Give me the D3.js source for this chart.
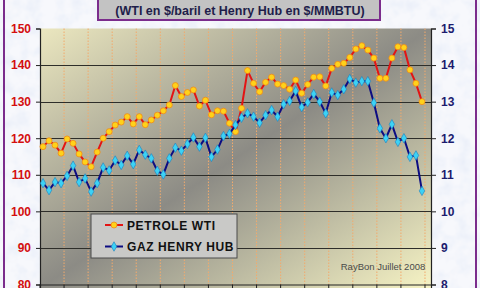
<!DOCTYPE html>
<html>
<head>
<meta charset="utf-8">
<script src="https://cdn.jsdelivr.net/npm/d3@7"></script>
<style>
  body { margin: 0; background: #fff; }
  svg { display: block; font-family: "Liberation Sans", Arial, sans-serif; }
</style>
</head>
<body>
<svg id="chart" width="480" height="288"></svg>
<script>
// weekly slots on the category axis (the last one is empty)
const slots = d3.range(65);

// PETROLE WTI, $/baril (left axis)
const wti = [117.7, 119.3, 118.1, 115.9, 119.8, 118.6, 115.7, 113.5, 112.2, 116.2,
    120.0, 121.8, 123.6, 124.4, 125.9, 123.9, 125.9, 123.7, 125.0, 126.3,
    127.5, 129.1, 134.4, 131.4, 132.5, 133.2, 128.8, 130.4, 126.4, 127.5,
    127.4, 124.1, 121.8, 128.2, 138.5, 135.0, 132.7, 135.3, 136.7, 134.8,
    134.4, 133.4, 135.9, 132.3, 134.7, 136.7, 136.8, 134.3, 139.1, 140.2,
    140.5, 142.1, 144.4, 145.3, 144.1, 141.9, 136.4, 136.4, 141.9, 145.0,
    144.8, 138.7, 135.0, 130.0];

// GAZ HENRY HUB, $/MMBTU (right axis)
const henryHub = [10.77, 10.58, 10.80, 10.77, 10.97, 11.25, 10.80, 10.90, 10.54, 10.77,
    11.20, 11.12, 11.39, 11.27, 11.52, 11.29, 11.68, 11.55, 11.45, 11.11,
    11.01, 11.45, 11.74, 11.66, 11.84, 12.02, 11.77, 12.01, 11.49, 11.69,
    12.06, 12.12, 12.36, 12.56, 12.68, 12.59, 12.42, 12.63, 12.77, 12.59,
    12.93, 13.02, 13.29, 12.85, 12.98, 13.21, 13.00, 12.68, 13.25, 13.18,
    13.34, 13.62, 13.52, 13.56, 13.56, 12.97, 12.27, 12.00, 12.38, 11.90,
    12.00, 11.49, 11.53, 10.56];

const leftTicks = [80, 90, 100, 110, 120, 130, 140, 150];
const rightTicks = [8, 9, 10, 11, 12, 13, 14, 15];

const svg = d3.select('#chart');
const defs = svg.append('defs');

// light snowy background texture
const snow = defs.append('filter').attr('id', 'snow')
    .attr('x', 0).attr('y', 0).attr('width', '100%').attr('height', '100%');
snow.append('feTurbulence').attr('type', 'fractalNoise')
    .attr('baseFrequency', 0.07).attr('numOctaves', 3).attr('seed', 4).attr('result', 'n');
snow.append('feColorMatrix').attr('in', 'n').attr('type', 'matrix')
    .attr('values', '0 0 0 0 0.78  0 0 0 0 0.83  0 0 0 0 0.93  -1.4 0 0 0 0.85');
snow.append('feComposite').attr('in2', 'SourceGraphic').attr('operator', 'over');

const grad = defs.append('linearGradient').attr('id', 'plotbg')
    .attr('x1', 0).attr('y1', 0).attr('x2', 1).attr('y2', 1);
grad.append('stop').attr('offset', '0%').attr('stop-color', '#ebe7bf');
grad.append('stop').attr('offset', '50%').attr('stop-color', '#8c8b85');
grad.append('stop').attr('offset', '100%').attr('stop-color', '#f6f3c4');

svg.append('rect').attr('width', 480).attr('height', 288)
    .attr('fill', '#f7f8fc').attr('filter', 'url(#snow)');

// purple frame sides
svg.append('line').attr('x1', 4).attr('x2', 4).attr('y1', 0).attr('y2', 288)
    .style('stroke', '#7b2c8c').style('stroke-width', 2);
svg.append('line').attr('x1', 476).attr('x2', 476).attr('y1', 0).attr('y2', 288)
    .style('stroke', '#7b2c8c').style('stroke-width', 2);

const LEFT = 40, RIGHT = 431, TOP = 28.5, BOTTOM = 284.5;

const x = d3.scaleBand().domain(slots).range([LEFT, RIGHT]);
const yL = d3.scaleLinear().domain([80, 150]).range([BOTTOM, TOP]);
const yR = d3.scaleLinear().domain([8, 15]).range([BOTTOM, TOP]);

svg.append('rect')
    .attr('x', LEFT).attr('y', TOP)
    .attr('width', RIGHT - LEFT).attr('height', 288 - TOP)
    .attr('fill', 'url(#plotbg)');

// vertical dotted grid every 4 slots
const vlines = slots.filter(d => d > 0 && d % 4 === 0);
svg.append('g').selectAll('line').data(vlines).join('line')
    .attr('x1', d => x(d)).attr('x2', d => x(d))
    .attr('y1', TOP).attr('y2', BOTTOM)
    .style('stroke', '#f3aa6c').style('stroke-width', 1)
    .style('stroke-dasharray', '1.5,1.5');

// horizontal grid
svg.append('g').selectAll('line').data(leftTicks.slice(1, -1)).join('line')
    .attr('x1', LEFT).attr('x2', RIGHT)
    .attr('y1', d => Math.round(yL(d)) + 0.5).attr('y2', d => Math.round(yL(d)) + 0.5)
    .style('stroke', '#2e2e2a').style('stroke-width', 1);

// axes
const axL = svg.append('g').attr('transform', `translate(${LEFT},0)`)
    .call(d3.axisLeft(yL).tickValues(leftTicks).tickSize(4).tickPadding(5));
const axR = svg.append('g').attr('transform', `translate(${RIGHT},0)`)
    .call(d3.axisRight(yR).tickValues(rightTicks).tickFormat(d3.format('d'))
        .tickSize(5).tickPadding(5));
const axB = svg.append('g').attr('transform', `translate(0,${BOTTOM})`)
    .call(d3.axisBottom(x).tickValues(slots.filter(d => d % 4 === 0)).tickSize(5).tickFormat(''));
axB.selectAll('.tick line').attr('transform', `translate(${-x.bandwidth() / 2},0)`);

[axL, axR, axB].forEach(a => {
    a.select('.domain').style('stroke', '#222').style('stroke-width', 1.2);
    a.selectAll('.tick line').style('stroke', '#222');
});
axL.selectAll('text').style('fill', '#d40f0f').style('font-size', '12px')
    .style('font-weight', 'bold').style('font-family', '"Liberation Sans", Arial, sans-serif');
axR.selectAll('text').style('fill', '#1c1c6e').style('font-size', '12px')
    .style('font-weight', 'bold').style('font-family', '"Liberation Sans", Arial, sans-serif');

// series
const cx = (d, i) => x(slots[i]) + x.bandwidth() / 2;

svg.append('path').datum(wti)
    .attr('d', d3.line().x(cx).y(d => yL(d)))
    .style('fill', 'none').style('stroke', '#e31414').style('stroke-width', 2);
svg.append('g').selectAll('circle').data(wti).join('circle')
    .attr('cx', cx).attr('cy', d => yL(d)).attr('r', 3)
    .style('fill', '#ffd21a').style('stroke', '#f08a18').style('stroke-width', 0.8);

const diamond = d3.symbol().type(d3.symbolDiamond).size(26);
svg.append('path').datum(henryHub)
    .attr('d', d3.line().x(cx).y(d => yR(d)))
    .style('fill', 'none').style('stroke', '#0c0c82').style('stroke-width', 2);
svg.append('g').selectAll('path').data(henryHub).join('path')
    .attr('d', diamond)
    .attr('transform', (d, i) => `translate(${cx(d, i)},${yR(d)})`)
    .style('fill', '#3cd2f5').style('stroke', '#1b7fc0').style('stroke-width', 0.6);

// legend
const leg = svg.append('g');
leg.append('rect').attr('x', 91).attr('y', 214).attr('width', 146).attr('height', 44)
    .style('fill', '#c9c9c7').style('stroke', '#4a4a4a').style('stroke-width', 1);
const legItems = [
    { name: 'PETROLE WTI', y: 225, stroke: '#e31414', kind: 'circle' },
    { name: 'GAZ HENRY HUB', y: 246.5, stroke: '#0c0c82', kind: 'diamond' }
];
legItems.forEach(it => {
    leg.append('line').attr('x1', 105).attr('x2', 123).attr('y1', it.y).attr('y2', it.y)
        .style('stroke', it.stroke).style('stroke-width', 2);
    if (it.kind === 'circle') {
        leg.append('circle').attr('cx', 114).attr('cy', it.y).attr('r', 3)
            .style('fill', '#ffd21a').style('stroke', '#f08a18').style('stroke-width', 0.8);
    } else {
        leg.append('path').attr('d', diamond).attr('transform', `translate(114,${it.y})`)
            .style('fill', '#3cd2f5').style('stroke', '#1b7fc0').style('stroke-width', 0.6);
    }
    leg.append('text').text(it.name).attr('x', 127).attr('y', it.y + 4.5)
        .style('font-size', '12px').style('font-weight', 'bold')
        .style('letter-spacing', '0.6px').style('fill', '#111');
});

svg.append('text').text('RayBon Juillet 2008')
    .attr('x', 383).attr('y', 270).attr('text-anchor', 'middle')
    .style('font-size', '9.5px').style('fill', '#4a4a4a');

// title box (top cut off)
svg.append('rect').attr('x', 98).attr('y', -10).attr('width', 282).attr('height', 30)
    .style('fill', '#c3c3c3').style('stroke', '#7b2c8c').style('stroke-width', 2);
svg.append('text').text('(WTI en $/baril et Henry Hub en $/MMBTU)')
    .attr('x', 240).attr('y', 15).attr('text-anchor', 'middle')
    .style('font-size', '12.5px').style('font-weight', 'bold').style('fill', '#1e1e4a');
</script>
</body>
</html>
